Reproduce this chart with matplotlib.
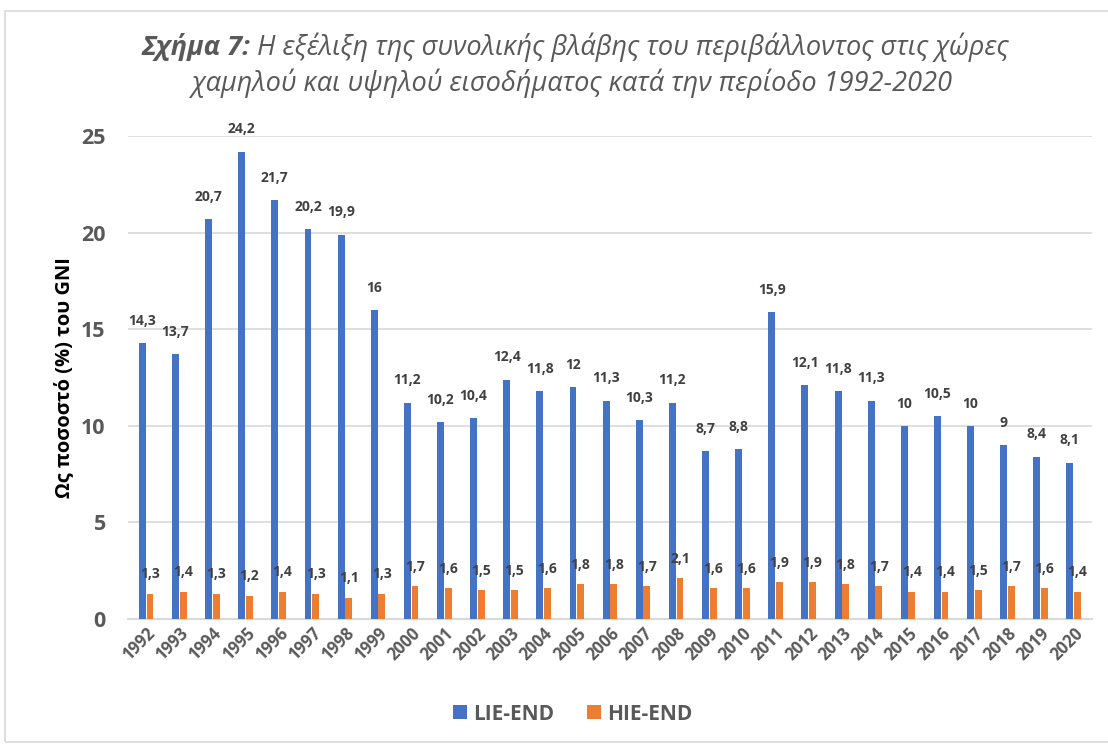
import numpy as np
import matplotlib.pyplot as plt
from matplotlib.patches import Rectangle

years = [str(y) for y in range(1992, 2021)]
lie_end = [14.3, 13.7, 20.7, 24.2, 21.7, 20.2, 19.9, 16, 11.2, 10.2, 10.4, 12.4, 11.8, 12,
           11.3, 10.3, 11.2, 8.7, 8.8, 15.9, 12.1, 11.8, 11.3, 10, 10.5, 10, 9, 8.4, 8.1]
hie_end = [1.3, 1.4, 1.3, 1.2, 1.4, 1.3, 1.1, 1.3, 1.7, 1.6, 1.5, 1.5, 1.6, 1.8,
           1.8, 1.7, 2.1, 1.6, 1.6, 1.9, 1.9, 1.8, 1.7, 1.4, 1.4, 1.5, 1.7, 1.6, 1.4]

plt.rcParams['font.family'] = ['Open Sans', 'DejaVu Sans']

blue = '#4472C4'
orange = '#ED7D31'
txt = '#404040'
grey = '#595959'

fig = plt.figure(figsize=(11.08, 7.44), dpi=100)
ax = fig.add_axes([0.1155, 0.168, 0.87, 0.649])

x = np.arange(len(years))
w = 0.21
b1 = ax.bar(x - w / 2 - 0.01, lie_end, w, color=blue, label='LIE-END', zorder=3)
b2 = ax.bar(x + w / 2 + 0.01, hie_end, w, color=orange, label='HIE-END', zorder=3)


def fmt(v):
    return f'{v:g}'.replace('.', ',')


for rect, v in zip(b1, lie_end):
    ax.annotate(fmt(v), (rect.get_x() + rect.get_width() / 2, v), xytext=(0, 11),
                textcoords='offset points', ha='center', va='bottom',
                fontsize=10, fontweight='bold', color=txt)
for rect, v in zip(b2, hie_end):
    ax.annotate(fmt(v), (rect.get_x() + rect.get_width() / 2, v), xytext=(0, 9),
                textcoords='offset points', ha='center', va='bottom',
                fontsize=10, fontweight='bold', color=txt)

ax.set_ylim(0, 25)
ax.set_yticks([0, 5, 10, 15, 20, 25])
ax.set_xlim(-0.55, len(years) - 0.45)
ax.set_xticks(x)
ax.set_xticklabels(years, rotation=45, ha='right', rotation_mode='anchor',
                   fontsize=12, fontweight='bold', color=grey)
for lab in ax.get_yticklabels():
    lab.set_fontsize(15.5)
    lab.set_fontweight('bold')
    lab.set_color(grey)

ax.grid(axis='y', color='#D9D9D9', linewidth=1.2, zorder=0)
for s in ['top', 'right', 'left']:
    ax.spines[s].set_visible(False)
ax.spines['bottom'].set_color('#D9D9D9')
ax.spines['bottom'].set_linewidth(1.5)
ax.tick_params(axis='both', length=0)
ax.tick_params(axis='y', pad=16)
ax.tick_params(axis='x', pad=4)

ax.set_ylabel('Ως ποσοστό (%) του GNI', fontsize=14.5, fontweight='bold', color='black', labelpad=5)

# title: bold-italic prefix followed by italic text, centred as one line
fs = 19.5
t1 = fig.text(0, 0.937, 'Σχήμα 7:', fontsize=fs, fontweight='bold', style='italic',
              color=grey, ha='left', va='center')
t2 = fig.text(0, 0.937, ' Η εξέλιξη της συνολικής βλάβης του περιβάλλοντος στις χώρες',
              fontsize=fs, style='italic', color=grey, ha='left', va='center')
fig.canvas.draw()
W = fig.bbox.width
w1 = t1.get_window_extent().width / W
w2 = t2.get_window_extent().width / W
x0 = 575 / 1108 - (w1 + w2) / 2
t1.set_x(x0)
t2.set_x(x0 + w1)
fig.text(572 / 1108, 0.888, 'χαμηλού και υψηλού εισοδήματος κατά την περίοδο 1992-2020',
         fontsize=fs, style='italic', color=grey, ha='center', va='center')

leg = fig.legend(handles=[b1, b2], loc='center', bbox_to_anchor=(0.517, 0.04), ncol=2,
                 frameon=False, fontsize=15, handlelength=0.65, handleheight=0.65,
                 columnspacing=1.6, handletextpad=0.3)
for t in leg.get_texts():
    t.set_fontweight('bold')
    t.set_color(grey)

fig.patches.append(Rectangle((5 / 1108, 0.003), 1.0, 1 - 11 / 744 - 0.003, transform=fig.transFigure,
                             fill=False, edgecolor='#D9D9D9', linewidth=1.2))

fig.savefig('out.png', dpi=100)
